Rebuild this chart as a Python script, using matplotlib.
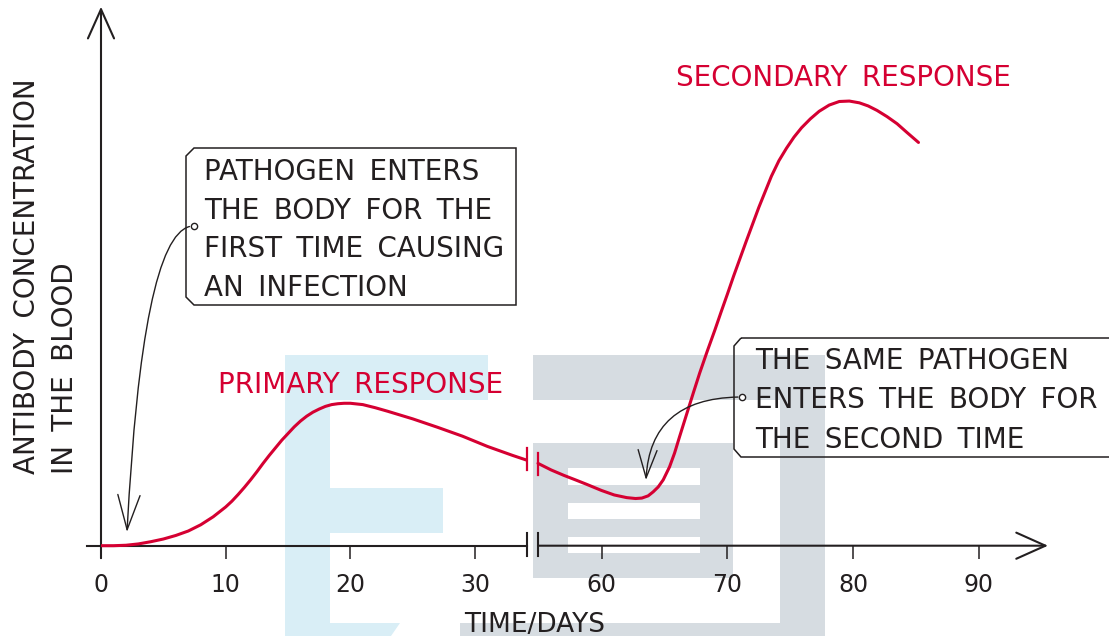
import matplotlib
matplotlib.use("Agg")
import matplotlib.pyplot as plt
from matplotlib.patches import Polygon, Rectangle

INK = "#231f20"
RED = "#d50032"
WM_BLUE = "#d9eef6"
WM_GREY = "#d6dce1"

# primary response, days 0 .. axis break
primary_days = [0, 1, 2, 3, 4, 5, 6, 7, 8, 9, 10, 10.5, 11, 11.5, 12, 12.5, 13,
                13.5, 14, 14.5, 15, 15.5, 16, 16.5, 17, 17.5, 18, 18.5, 19, 19.5,
                20, 21, 22, 23, 25, 27, 29, 31, 33, 34.17]
primary_conc = [0.0, 0.0, 0.1, 0.4, 0.9, 1.5, 2.3, 3.3, 4.7, 6.5, 8.7, 10.0,
                11.5, 13.1, 14.8, 16.6, 18.5, 20.3, 22.0, 23.7, 25.2, 26.7,
                28.0, 29.1, 30.0, 30.7, 31.3, 31.7, 31.9, 32.0, 32.0, 31.7,
                31.0, 30.2, 28.5, 26.6, 24.6, 22.3, 20.3, 19.2]

# secondary response, axis break .. day 85
secondary_days = [54.94, 56.0, 57.0, 58.0, 58.8, 60.0, 61.0, 62.0, 62.7, 63.2,
                  63.7, 64.1, 64.5, 64.9, 65.4, 65.8, 66.2, 66.7, 67.3, 67.8,
                  68.4, 69.0, 69.5, 70.0, 70.5, 71.0, 71.5, 72.0, 72.5, 73.0,
                  73.5, 74.1, 74.7, 75.3, 75.9, 76.6, 77.3, 78.1, 78.9, 79.7,
                  80.5, 81.2, 81.9, 82.7, 83.5, 84.3, 85.2]
secondary_conc = [18.5, 17.0, 15.8, 14.7, 13.8, 12.4, 11.4, 10.8, 10.6, 10.7,
                  11.2, 12.1, 13.2, 14.8, 17.7, 20.8, 24.5, 29.0, 34.4, 38.8,
                  43.7, 48.4, 52.5, 56.5, 60.6, 64.5, 68.4, 72.2, 76.0, 79.5,
                  83.0, 86.5, 89.3, 91.8, 93.9, 95.9, 97.6, 99.0, 99.8, 99.9,
                  99.5, 98.8, 97.8, 96.4, 94.8, 92.8, 90.6]

left_ticks = [0, 10, 20, 30]
right_ticks = [60, 70, 80, 90]
left_range = (0, 34.17)      # days shown before the break
right_range = (54.94, 95.5)  # days shown after the break
conc_range = (0, 121.1)

SP = " \u2009"  # the hand lettering uses wide word gaps
box1_lines = ["PATHOGEN ENTERS", "THE BODY FOR THE", "FIRST TIME CAUSING", "AN INFECTION"]
box2_lines = ["THE SAME PATHOGEN", "ENTERS THE BODY FOR", "THE SECOND TIME"]


def wide(s):
    return s.replace(" ", SP)


W, H = 1109, 636
fig = plt.figure(figsize=(W / 100, H / 100), dpi=100)


def px_box(x0, y0, x1, y1):
    """pixel box (origin top-left) -> figure fraction rect"""
    return [x0 / W, 1 - y1 / H, (x1 - x0) / W, (y1 - y0) / H]


# faint watermark shapes behind everything
bg = fig.add_axes([0, 0, 1, 1], zorder=0)
bg.set_xlim(0, W)
bg.set_ylim(H, 0)
bg.axis("off")
for (x0, y0, x1, y1) in [(285, 355, 330, 636), (285, 355, 488, 400), (330, 488, 443, 533)]:
    bg.add_patch(Rectangle((x0, y0), x1 - x0, y1 - y0, fc=WM_BLUE, ec="none"))
bg.add_patch(Polygon([(330, 623), (400, 623), (391, 636), (330, 636)], fc=WM_BLUE, ec="none"))
for (x0, y0, x1, y1) in [(533, 355, 825, 400), (780, 355, 825, 636),
                         (533, 443, 733, 578), (460, 623, 825, 636)]:
    bg.add_patch(Rectangle((x0, y0), x1 - x0, y1 - y0, fc=WM_GREY, ec="none"))
for (y0, y1) in [(468, 485), (503, 519), (537, 553)]:
    bg.add_patch(Rectangle((568, y0), 132, y1 - y0, fc="white", ec="none"))

ax1 = fig.add_axes(px_box(101, 6.7, 527, 545.7), zorder=2)
ax2 = fig.add_axes(px_box(538, 6.7, 1048, 545.7), zorder=2)
for ax, rng, ticks in [(ax1, left_range, left_ticks), (ax2, right_range, right_ticks)]:
    ax.set_xlim(*rng)
    ax.set_ylim(*conc_range)
    ax.patch.set_alpha(0)
    for s in ax.spines.values():
        s.set_visible(False)
    ax.set_yticks([])
    ax.set_xticks(ticks)
    ax.tick_params(axis="x", direction="out", length=9.4, width=1.1, color=INK,
                   labelsize=17, labelcolor=INK, pad=10)

head = "->,head_length=1.05,head_width=0.47"
ax1.annotate("", xy=(0, conc_range[1]), xytext=(0, -2.8), annotation_clip=False,
             arrowprops=dict(arrowstyle=head, lw=1.5, color=INK, mutation_scale=20,
                             shrinkA=0, shrinkB=0))
ax1.plot([-1.15, left_range[1]], [0, 0], color=INK, lw=1.5, clip_on=False, zorder=3)
ax1.plot([left_range[1]] * 2, [-2.3, 2.85], color=INK, lw=1.5, clip_on=False, zorder=3)
ax2.plot([right_range[0]] * 2, [-2.3, 2.85], color=INK, lw=1.5, clip_on=False, zorder=3)
ax2.annotate("", xy=(right_range[1], 0), xytext=(right_range[0], 0), annotation_clip=False,
             arrowprops=dict(arrowstyle=head, lw=1.5, color=INK, mutation_scale=20,
                             shrinkA=0, shrinkB=0))

ax1.plot(primary_days, primary_conc, color=RED, lw=2.2, solid_capstyle="butt",
         solid_joinstyle="round", clip_on=False, zorder=4)
ax2.plot(secondary_days, secondary_conc, color=RED, lw=2.2, solid_capstyle="round",
         solid_joinstyle="round", clip_on=False, zorder=4)
ax1.plot([primary_days[-1]] * 2, [17.0, 21.9], color=RED, lw=1.6, clip_on=False, zorder=4)
ax2.plot([secondary_days[0]] * 2, [15.9, 20.8], color=RED, lw=1.6, clip_on=False, zorder=4)

# overlay for labels and callout boxes (pixel coordinates)
ov = fig.add_axes([0, 0, 1, 1], zorder=3)
ov.set_xlim(0, W)
ov.set_ylim(H, 0)
ov.axis("off")

ov.text(35, 474, wide("ANTIBODY CONCENTRATION"), rotation=90, rotation_mode="anchor",
        ha="left", va="baseline", fontsize=20, color=INK)
ov.text(73, 474, wide("IN THE BLOOD"), rotation=90, rotation_mode="anchor",
        ha="left", va="baseline", fontsize=20, color=INK)
ov.text(535, 632, "TIME/DAYS", ha="center", va="baseline", fontsize=19, color=INK)
ov.text(218, 393, wide("PRIMARY RESPONSE"), ha="left", va="baseline", fontsize=20, color=RED)
ov.text(676, 86, wide("SECONDARY RESPONSE"), ha="left", va="baseline", fontsize=20, color=RED)

ov.add_patch(Polygon([(194, 148), (516, 148), (516, 305), (194, 305), (186, 297), (186, 156)],
                     closed=True, fill=False, ec=INK, lw=1.1))
for i, line in enumerate(box1_lines):
    ov.text(204, 180 + i * 38.7, wide(line), ha="left", va="baseline", fontsize=20, color=INK)

ov.add_patch(Polygon([(741, 338), (1120, 338), (1120, 457), (741, 457), (734, 449), (734, 346)],
                     closed=True, fill=False, ec=INK, lw=1.1, clip_on=False))
for i, line in enumerate(box2_lines):
    ov.text(755, 369 + i * 39.5, wide(line), ha="left", va="baseline", fontsize=20, color=INK)

ov.annotate("", xy=(127, 532), xytext=(193.6, 226),
            arrowprops=dict(arrowstyle="->,head_length=1.25,head_width=0.4", lw=1.0,
                            color=INK, mutation_scale=20, shrinkA=3, shrinkB=0,
                            connectionstyle="angle3,angleA=180,angleB=87"))
ov.annotate("", xy=(646, 480), xytext=(742, 397),
            arrowprops=dict(arrowstyle="->,head_length=1.0,head_width=0.34", lw=1.0,
                            color=INK, mutation_scale=20, shrinkA=3, shrinkB=0,
                            connectionstyle="angle3,angleA=180,angleB=87"))
ov.plot([193.6, 742], [226, 397], ls="none", marker="o", ms=4.5, mfc="white",
        mec=INK, mew=1.0)

fig.savefig("out.png", dpi=100)
